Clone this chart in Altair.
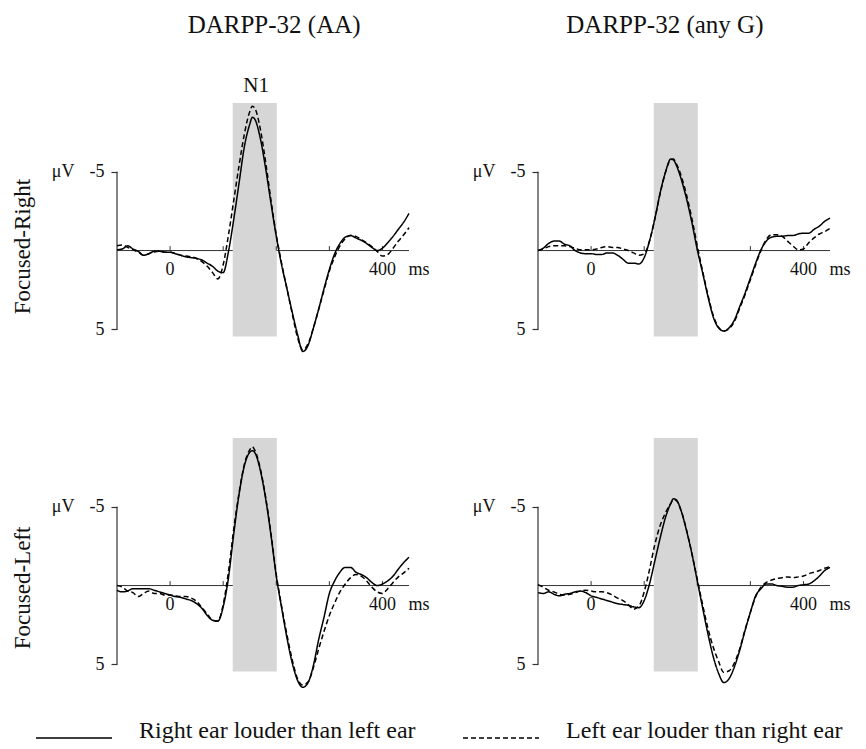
import altair as alt
import pandas as pd

# ---------------- data ----------------
times = [-100, -90, -80, -70, -60, -50, -40, -30, -20, -10, 0, 10, 20, 30, 40, 50, 60, 70, 80, 90,
         100, 110, 120, 130, 140, 150, 155, 160, 170, 180, 190, 200, 210, 220, 230, 240, 250, 260,
         270, 280, 290, 300, 310, 320, 330, 340, 350, 360, 370, 380, 390, 400, 410, 420, 430, 440, 450]

conditions = ["Right ear louder than left ear", "Left ear louder than right ear"]

# Focused-Right, DARPP-32 (AA)
p1_solid = [-0.05, -0.1, -0.3, -0.1, 0.05, 0.3, 0.2, 0.05, 0.05, 0.1, 0.1, 0.2, 0.3, 0.4, 0.45, 0.5, 0.6, 0.8, 1.0, 1.3,
            1.4, 0.05, -2.0, -4.3, -6.6, -8.0, -8.45, -8.3, -7.1, -5.2, -3.0, -0.9, 0.9, 2.4, 3.9, 5.3, 6.4, 6.0,
            4.9, 3.7, 2.4, 1.2, 0.2, -0.45, -0.85, -0.95, -0.8, -0.65, -0.45, -0.2, 0.0, -0.15, -0.5, -0.9, -1.35, -1.8, -2.35]
p1_dashed = [-0.3, -0.35, -0.2, -0.05, 0.1, 0.3, 0.2, 0.1, 0.05, 0.1, 0.1, 0.2, 0.3, 0.35, 0.4, 0.5, 0.7, 1.0, 1.4, 1.8,
             0.9, -1.0, -3.2, -5.4, -7.4, -8.8, -9.15, -9.0, -7.7, -5.6, -3.2, -1.0, 0.8, 2.4, 4.0, 5.5, 6.3, 5.9,
             4.9, 3.7, 2.5, 1.3, 0.4, -0.3, -0.75, -0.95, -0.9, -0.7, -0.5, -0.25, 0.05, 0.35, 0.25, -0.15, -0.6, -1.0, -1.45]
# Focused-Right, DARPP-32 (any G)
p2_solid = [0.0, -0.15, -0.45, -0.6, -0.6, -0.4, -0.3, 0.0, 0.15, 0.2, 0.2, 0.25, 0.25, 0.15, 0.15, 0.3, 0.55, 0.8, 0.8, 0.85,
            0.45, -0.6, -2.0, -3.65, -4.95, -5.8, -5.75, -5.45, -4.5, -3.25, -1.75, -0.05, 1.4, 2.9, 4.2, 4.9, 5.1, 4.9,
            4.4, 3.55, 2.7, 1.75, 0.8, -0.05, -0.6, -0.85, -0.9, -0.9, -0.95, -0.95, -1.05, -1.1, -1.1, -1.35, -1.55, -1.85, -2.05]
p2_dashed = [0.0, -0.1, -0.25, -0.3, -0.3, -0.3, -0.25, -0.15, -0.05, -0.05, -0.05, -0.1, -0.2, -0.25, -0.2, -0.2, -0.1, 0.0, 0.15, 0.3,
             0.2, -0.6, -2.0, -3.6, -4.95, -5.75, -5.8, -5.55, -4.7, -3.5, -2.0, -0.3, 1.3, 2.8, 4.1, 4.85, 5.1, 4.95,
             4.5, 3.65, 2.8, 1.85, 0.9, 0.0, -0.7, -1.0, -1.0, -0.9, -0.6, -0.3, -0.05, -0.1, -0.5, -0.8, -1.05, -1.2, -1.4]
# Focused-Left, DARPP-32 (AA)
p3_solid = [0.3, 0.4, 0.35, 0.2, 0.2, 0.2, 0.2, 0.3, 0.4, 0.5, 0.6, 0.7, 0.75, 0.85, 0.95, 1.15, 1.45, 1.9, 2.2, 2.25,
            1.35, -0.5, -3.3, -5.8, -7.6, -8.45, -8.55, -8.4, -7.3, -5.5, -3.2, -0.6, 1.4, 3.3, 4.9, 6.0, 6.45, 6.15,
            5.05, 3.4, 2.0, 0.5, -0.3, -0.85, -1.15, -1.15, -0.85, -0.7, -0.5, -0.2, 0.0, -0.1, -0.3, -0.6, -1.05, -1.45, -1.8]
p3_dashed = [0.0, 0.1, 0.35, 0.45, 0.7, 0.5, 0.35, 0.5, 0.5, 0.6, 0.6, 0.65, 0.7, 0.7, 0.8, 1.0, 1.4, 1.8, 2.2, 2.25,
             1.2, -0.9, -3.6, -5.9, -7.7, -8.6, -8.8, -8.55, -7.4, -5.6, -3.3, -0.7, 1.3, 3.1, 4.7, 5.9, 6.3, 6.1,
             5.2, 4.0, 2.9, 1.9, 1.1, 0.4, -0.1, -0.5, -0.7, -0.6, -0.3, 0.1, 0.4, 0.5, 0.2, -0.2, -0.55, -0.8, -1.1]
# Focused-Left, DARPP-32 (any G)
p4_solid = [0.45, 0.5, 0.4, 0.55, 0.65, 0.55, 0.5, 0.4, 0.35, 0.45, 0.65, 0.75, 0.85, 0.95, 1.05, 1.15, 1.2, 1.25, 1.35, 1.4,
            0.95, -0.1, -1.55, -3.0, -4.3, -5.2, -5.5, -5.45, -4.7, -3.45, -2.0, -0.3, 1.4, 3.05, 4.5, 5.55, 6.15, 5.9,
            5.15, 4.1, 2.85, 1.7, 0.65, 0.2, -0.1, -0.1, 0.0, 0.05, 0.1, 0.1, 0.0, -0.05, -0.1, -0.3, -0.6, -0.95, -1.15]
p4_dashed = [-0.05, 0.1, 0.3, 0.4, 0.55, 0.6, 0.55, 0.45, 0.35, 0.3, 0.35, 0.4, 0.4, 0.45, 0.6, 0.8, 0.95, 1.2, 1.5, 1.3,
             0.4, -1.0, -2.6, -3.8, -4.6, -5.2, -5.45, -5.4, -4.7, -3.5, -2.0, -0.4, 1.2, 2.7, 3.9, 4.8, 5.5, 5.4,
             4.9, 4.0, 2.8, 1.7, 0.7, 0.1, -0.2, -0.35, -0.45, -0.5, -0.55, -0.5, -0.55, -0.6, -0.75, -0.85, -0.95, -1.1, -1.2]

column_titles = ["DARPP-32 (AA)", "DARPP-32 (any G)"]
column_title_t = [196, 139]          # annotation anchor (ms)
row_labels = ["Focused-Right", "Focused-Left"]
row_label_v = [-0.25, 0.15]          # annotation anchor (µV)
n1_label = "N1"

window_t = [118, 201]                # N1 window (ms)
window_v = [-9.35, 5.45]             # shaded extent (µV)
y_axis_ticks = [-5, 5]
x_tick_times = [0, 100, 200, 300, 400]
x_label_times = [0, 400]
x_labels = ["0", "400"]
x_unit = "ms"
y_unit = "\u03bcV"

T_DOMAIN = [-100, 450]
V_DOMAIN = [-11, 7]
W, H = 292, 284
FONT = "Liberation Serif"
INK = "#111111"
PX_PER_UV = H / (V_DOMAIN[1] - V_DOMAIN[0])
SYMBOL_LEN = 76
LEGEND_LINE_Y = 737

xs = alt.Scale(domain=T_DOMAIN, nice=False, zero=False)
ys = alt.Scale(domain=V_DOMAIN, nice=False, zero=False, reverse=True)
dash_scale = alt.Scale(domain=conditions, range=[[1, 0], [5, 3]])


def panel(solid, dashed, row, col):
    wave = pd.DataFrame({
        "t": times * 2,
        "v": solid + dashed,
        "cond": [conditions[0]] * len(times) + [conditions[1]] * len(times),
    })
    base_x = alt.X("t:Q", scale=xs, axis=None)
    yaxis = alt.Axis(values=y_axis_ticks, domain=False, grid=False, ticks=True, tickSize=6,
                     tickColor="#333333", tickWidth=1.2, labelExpr="toString(datum.value)",
                     labelFont=FONT, labelFontSize=18, labelColor=INK, labelPadding=7,
                     title=y_unit, titleAngle=0, titleAlign="right", titleBaseline="middle",
                     titleX=-43, titleY=(y_axis_ticks[0] - V_DOMAIN[0]) * PX_PER_UV,
                     titleFont=FONT, titleFontSize=18, titleFontWeight="normal", titleColor=INK)
    base_y = alt.Y("v:Q", scale=ys, axis=yaxis)

    zero = alt.Chart(pd.DataFrame({"t": [T_DOMAIN[0]], "t2": [T_DOMAIN[1]], "v": [0]})).mark_rule(
        color="#333333", strokeWidth=1).encode(x=base_x, x2="t2:Q", y=base_y)
    win = alt.Chart(pd.DataFrame({"t": [window_t[0]], "t2": [window_t[1]],
                                  "v": [window_v[0]], "v2": [window_v[1]]})).mark_rect(
        color="#d6d6d6").encode(x=base_x, x2="t2:Q", y=base_y, y2="v2:Q")
    vaxis = alt.Chart(pd.DataFrame({"t": [T_DOMAIN[0]], "v": [y_axis_ticks[0]], "v2": [y_axis_ticks[1]]})).mark_rule(
        color="#333333", strokeWidth=1.2).encode(x=base_x, y=base_y, y2="v2:Q")
    xticks = alt.Chart(pd.DataFrame({"t": x_tick_times, "v": [0] * len(x_tick_times),
                                     "v2": [-0.28] * len(x_tick_times)})).mark_rule(
        color="#333333", strokeWidth=1).encode(x=base_x, y=base_y, y2="v2:Q")
    xlab = alt.Chart(pd.DataFrame({"t": x_label_times, "v": [0, 0], "txt": x_labels})).mark_text(
        font=FONT, fontSize=18, color=INK, baseline="alphabetic", align="center", dy=24).encode(
        x=base_x, y=base_y, text="txt:N")
    unit = alt.Chart(pd.DataFrame({"t": [x_label_times[-1]], "v": [0], "txt": [x_unit]})).mark_text(
        font=FONT, fontSize=18, color=INK, baseline="alphabetic", align="left", dx=26, dy=24).encode(
        x=base_x, y=base_y, text="txt:N")
    lines = alt.Chart(wave).mark_line(interpolate="monotone", color="black", strokeWidth=1.5).encode(
        x=base_x, y=base_y,
        strokeDash=alt.StrokeDash("cond:N", scale=dash_scale, sort=conditions,
                                  legend=alt.Legend(orient="none", legendX=-82,
                                                    legendY=LEGEND_LINE_Y - 77 - SYMBOL_LEN // 2,
                                                    direction="horizontal",
                                                    title=None, symbolType="stroke", symbolSize=SYMBOL_LEN ** 2,
                                                    symbolStrokeWidth=1.5, symbolStrokeColor="black",
                                                    labelFont=FONT, labelFontSize=24, labelColor=INK,
                                                    labelBaseline="alphabetic",
                                                    labelOffset=26, columnPadding=44, padding=0,
                                                    labelLimit=400)))
    layers = [zero, win, vaxis, xticks, lines, xlab, unit]
    if row == 0:
        layers.append(alt.Chart(pd.DataFrame({"t": [column_title_t[col]], "v": [-13.8], "txt": [column_titles[col]]}))
                      .mark_text(font=FONT, fontSize=25, color=INK, baseline="alphabetic", align="center")
                      .encode(x=base_x, y=base_y, text="txt:N"))
    if row == 0 and col == 0:
        layers.append(alt.Chart(pd.DataFrame({"t": [162], "v": [-10.05], "txt": [n1_label]}))
                      .mark_text(font=FONT, fontSize=21, color=INK, baseline="alphabetic", align="center")
                      .encode(x=base_x, y=base_y, text="txt:N"))
    if col == 0:
        layers.append(alt.Chart(pd.DataFrame({"t": [-277], "v": [row_label_v[row]], "txt": [row_labels[row]]}))
                      .mark_text(font=FONT, fontSize=23, color=INK, baseline="middle", align="center", angle=270)
                      .encode(x=base_x, y=base_y, text="txt:N"))
    return alt.layer(*layers).properties(width=W, height=H)


chart = alt.concat(
    panel(p1_solid, p1_dashed, 0, 0),
    panel(p2_solid, p2_dashed, 0, 1),
    panel(p3_solid, p3_dashed, 1, 0),
    panel(p4_solid, p4_dashed, 1, 1),
    columns=2, spacing={"row": 51, "column": 129}, bounds="flush",
).resolve_scale(strokeDash="shared").resolve_legend(strokeDash="shared").properties(
    autosize=alt.AutoSizeParams(type="none"),
    padding={"left": 117, "top": 77, "right": 749, "bottom": 672},
    background="white",
).configure_view(stroke=None)

chart.save("out.html", embed_options={"renderer": "svg", "actions": False})
